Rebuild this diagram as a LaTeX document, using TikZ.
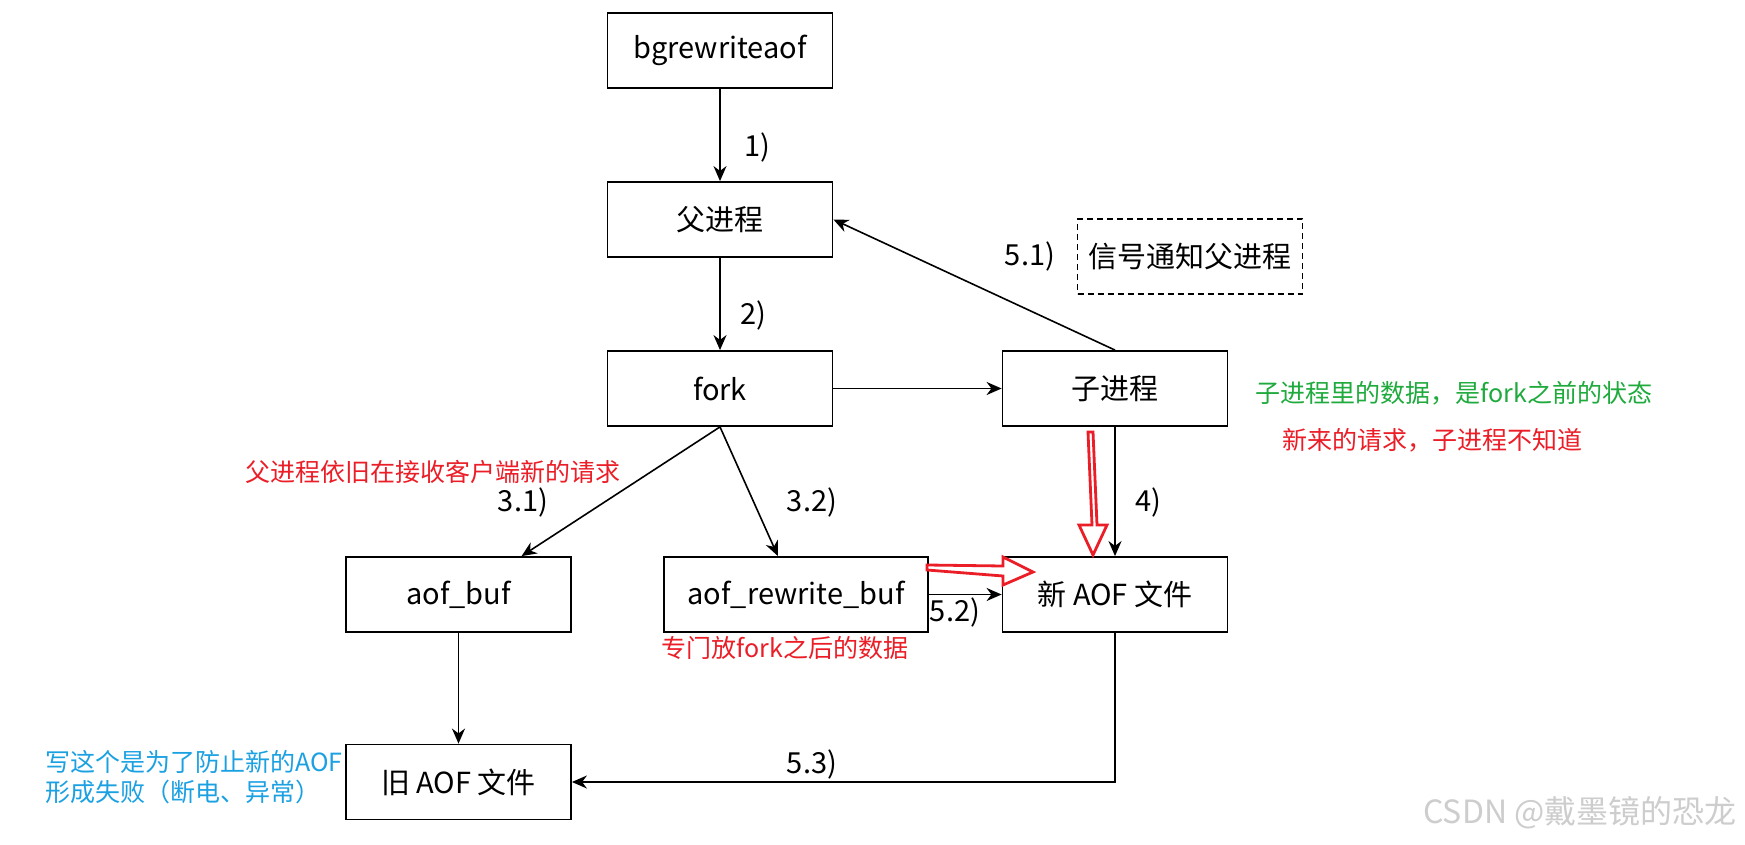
\documentclass[tikz,border=0pt]{standalone}
\usepackage{fontspec}
\setmainfont{Noto Sans CJK SC}
\usetikzlibrary{arrows.meta,calc}
\definecolor{annred}{RGB}{235,30,40}
\definecolor{anngreen}{RGB}{30,170,60}
\definecolor{annblue}{RGB}{27,161,226}
\definecolor{wmgray}{RGB}{205,205,205}
\begin{document}
\begin{tikzpicture}[x=0.5pt,y=-0.5pt,
  box/.style={draw,line width=0.9pt,minimum width=112.5pt,minimum height=37.5pt,inner sep=0pt,font=\fontsize{14.5pt}{17pt}\selectfont},
  arr/.style={draw,line width=0.8pt,-{Stealth[length=7.5pt,width=6.5pt,inset=2.4pt]}},
  lbl/.style={font=\fontsize{14.5pt}{17pt}\selectfont},
  note/.style={font=\fontsize{12.5pt}{15pt}\selectfont},
  hollow/.style={draw=annred,line width=1.4pt,fill=white,line join=miter}]
\useasboundingbox (0,0) rectangle (1745,845);
\fill[white] (0,0) rectangle (1745,845);

% boxes
\node[box] (bg) at (720,50.5) {bgrewriteaof};
\node[box] (parent) at (720,219.5) {父进程};
\node[box] (fork) at (720,388.5) {fork};
\node[box] (child) at (1115,388.5) {子进程};
\node[box,dashed,dash pattern=on 3pt off 2pt] (signal) at (1190,256.5) {信号通知父进程};
\node[box] (aofbuf) at (458.5,594.5) {aof\_buf};
\node[box,minimum width=132pt] (rwbuf) at (796,594.5) {aof\_rewrite\_buf};
\node[box] (newaof) at (1115,594.5) {新 AOF 文件};
\node[box] (oldaof) at (458.5,782) {旧 AOF 文件};

% connectors
\draw[arr] (bg.south) -- (parent.north);
\draw[arr] (parent.south) -- (fork.north);
\draw[arr] (fork.east) -- (child.west);
\draw[arr] (child.north) -- (parent.east);
\draw[arr] (fork.south) -- ($(aofbuf.north)!0.556!(aofbuf.north east)$);
\draw[arr] (fork.south) -- ($(rwbuf.north)!0.136!(rwbuf.north west)$);
\draw[arr] (child.south) -- (newaof.north);
\draw[arr] (rwbuf.east) -- (newaof.west);
\draw[arr] (aofbuf.south) -- (oldaof.north);
\draw[arr] (newaof.south) |- (oldaof.east);

% labels
\node[lbl] (l1) at (757,147) {1)};
\node[lbl] (l2) at (753,315) {2)};
\node[lbl] (l31) at (523,502) {3.1)};
\node[lbl] (l32) at (812,502) {3.2)};
\node[lbl] (l4) at (1148,502) {4)};
\node[lbl] (l51) at (1030,256) {5.1)};
\node[lbl] (l52) at (955,612) {5.2)};
\node[lbl] (l53) at (812,764) {5.3)};

% red hollow arrows
\draw[hollow] (1088,432) -- (1093,432) -- (1097,525) -- (1107,525) -- (1093,555) -- (1079,525) -- (1092,525) -- cycle;
\draw[hollow] (927,565) -- (1003,566) -- (1003,557) -- (1033,572) -- (1003,585) -- (1003,576) -- (927,570) -- cycle;

% annotations
\node[note,text=annred] (n1) at (433,472) {父进程依旧在接收客户端新的请求};
\node[note,text=anngreen] (n2) at (1454,393) {子进程里的数据，是fork之前的状态};
\node[note,text=annred] (n3) at (1432,440) {新来的请求，子进程不知道};
\node[note,text=annred] (n4) at (785,648) {专门放fork之后的数据};
\node[note,text=annblue,anchor=west,align=left,inner sep=0pt] (n5) at (45,777) {写这个是为了防止新的AOF\\形成失败（断电、异常）};

% watermark
\node[text=wmgray,anchor=east,inner sep=0pt,font=\fontsize{16pt}{18pt}\selectfont] (wm) at (1737,813) {CSDN @戴墨镜的恐龙};
\end{tikzpicture}
\end{document}
